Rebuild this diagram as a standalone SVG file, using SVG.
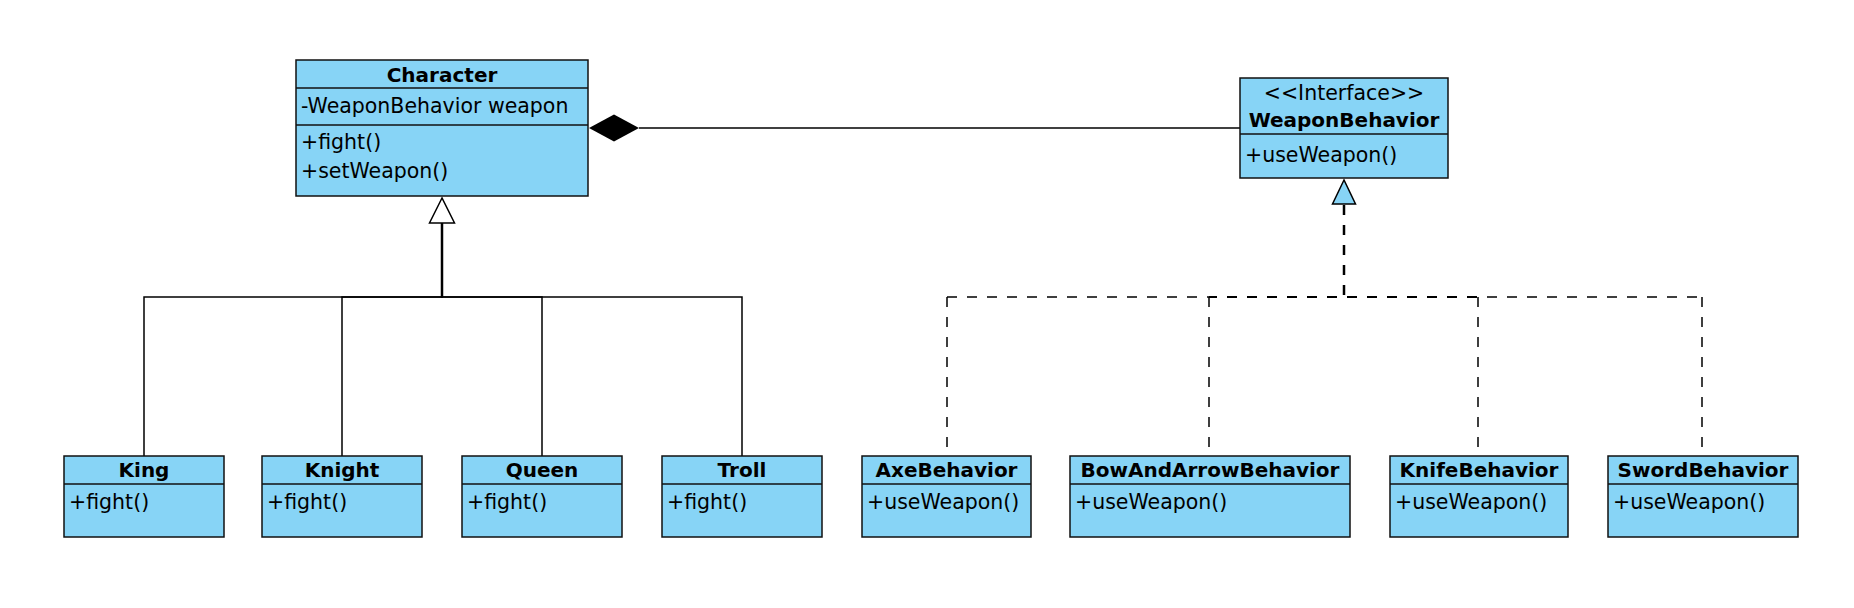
<svg xmlns="http://www.w3.org/2000/svg" width="1854" height="608" viewBox="0 0 1854 608">
<style>
.box{fill:#87D4F6;stroke:#111;stroke-width:1.5}
.dv{stroke:#111;stroke-width:1.5}
.t{font-family:"DejaVu Sans","Liberation Sans",sans-serif;font-size:20.5px;fill:#000}
.b{font-weight:bold;text-anchor:middle;font-size:20px}
.c{text-anchor:middle}
.ln{fill:none;stroke:#000;stroke-width:1.5}
.dash{stroke-dasharray:10 10}
</style>
<rect width="1854" height="608" fill="#fff"/>
<g id="connectors">
  <path class="ln" d="M144 456V297H442V223"/>
  <path class="ln" d="M342 456V297H442V223"/>
  <path class="ln" d="M542 456V297H442V223"/>
  <path class="ln" d="M742 456V297H442V223"/>
  <path class="ln" d="M442 297V223" style="stroke-width:2.5"/>
  <polygon points="442,198 429.5,223 454.5,223" fill="#fff" stroke="#000" stroke-width="1.5"/>
  <path class="ln dash" d="M1344 205V297" style="stroke-width:2.5"/>
  <path class="ln dash" d="M947 297H1702"/>
  <path class="ln dash" d="M1209 297H1478" style="stroke-width:2.2;stroke-dashoffset:2"/>
  <path class="ln dash" d="M947 297V456"/>
  <path class="ln dash" d="M1209 297V456"/>
  <path class="ln dash" d="M1478 297V456"/>
  <path class="ln dash" d="M1702 297V456"/>
  <polygon points="1344,180 1332.5,204 1355.5,204" fill="#87D4F6" stroke="#000" stroke-width="1.5"/>
  <path class="ln" d="M639 128H1240"/>
  <polygon points="589,128 614,114.5 639,128 614,141.5" fill="#000"/>
</g>
<g id="Character">
  <rect class="box" x="296" y="60" width="292" height="136"/>
  <line class="dv" x1="296" y1="88" x2="588" y2="88"/>
  <line class="dv" x1="296" y1="125" x2="588" y2="125"/>
  <text class="t b" x="442" y="82">Character</text>
  <text class="t" x="301" y="113">-WeaponBehavior weapon</text>
  <text class="t" x="301" y="149">+fight()</text>
  <text class="t" x="301" y="178">+setWeapon()</text>
</g>
<g id="WeaponBehavior">
  <rect class="box" x="1240" y="78" width="208" height="100"/>
  <line class="dv" x1="1240" y1="134" x2="1448" y2="134"/>
  <text class="t c" x="1344" y="100">&lt;&lt;Interface&gt;&gt;</text>
  <text class="t b" x="1344" y="127">WeaponBehavior</text>
  <text class="t" x="1245" y="162">+useWeapon()</text>
</g>
<g id="King">
  <rect class="box" x="64" y="456" width="160" height="81"/>
  <line class="dv" x1="64" y1="484" x2="224" y2="484"/>
  <text class="t b" x="144" y="477">King</text>
  <text class="t" x="69" y="509">+fight()</text>
</g>
<g id="Knight">
  <rect class="box" x="262" y="456" width="160" height="81"/>
  <line class="dv" x1="262" y1="484" x2="422" y2="484"/>
  <text class="t b" x="342" y="477">Knight</text>
  <text class="t" x="267" y="509">+fight()</text>
</g>
<g id="Queen">
  <rect class="box" x="462" y="456" width="160" height="81"/>
  <line class="dv" x1="462" y1="484" x2="622" y2="484"/>
  <text class="t b" x="542" y="477">Queen</text>
  <text class="t" x="467" y="509">+fight()</text>
</g>
<g id="Troll">
  <rect class="box" x="662" y="456" width="160" height="81"/>
  <line class="dv" x1="662" y1="484" x2="822" y2="484"/>
  <text class="t b" x="742" y="477">Troll</text>
  <text class="t" x="667" y="509">+fight()</text>
</g>
<g id="AxeBehavior">
  <rect class="box" x="862" y="456" width="169" height="81"/>
  <line class="dv" x1="862" y1="484" x2="1031" y2="484"/>
  <text class="t b" x="946.5" y="477">AxeBehavior</text>
  <text class="t" x="867" y="509">+useWeapon()</text>
</g>
<g id="BowAndArrowBehavior">
  <rect class="box" x="1070" y="456" width="280" height="81"/>
  <line class="dv" x1="1070" y1="484" x2="1350" y2="484"/>
  <text class="t b" x="1210" y="477">BowAndArrowBehavior</text>
  <text class="t" x="1075" y="509">+useWeapon()</text>
</g>
<g id="KnifeBehavior">
  <rect class="box" x="1390" y="456" width="178" height="81"/>
  <line class="dv" x1="1390" y1="484" x2="1568" y2="484"/>
  <text class="t b" x="1479" y="477">KnifeBehavior</text>
  <text class="t" x="1395" y="509">+useWeapon()</text>
</g>
<g id="SwordBehavior">
  <rect class="box" x="1608" y="456" width="190" height="81"/>
  <line class="dv" x1="1608" y1="484" x2="1798" y2="484"/>
  <text class="t b" x="1703" y="477">SwordBehavior</text>
  <text class="t" x="1613" y="509">+useWeapon()</text>
</g>
</svg>
